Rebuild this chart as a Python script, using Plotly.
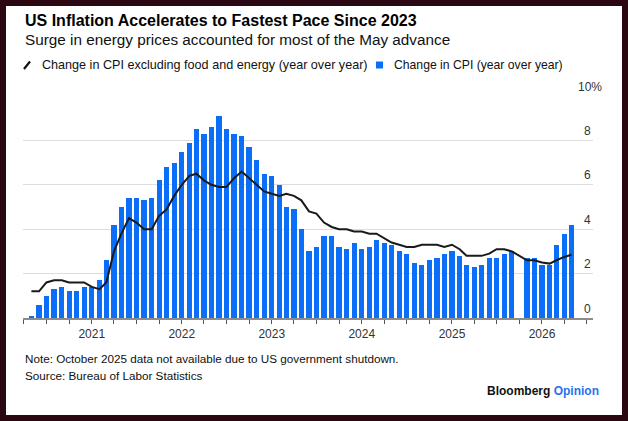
import pandas as pd
import plotly.graph_objects as go

#### data ####
# monthly, May 2020 through May 2026 (Oct 2025 missing: shutdown)
months = pd.date_range("2020-05-01", "2026-05-01", freq="MS")

cpi_yoy = [0.1, 0.6, 1.0, 1.3, 1.4, 1.2, 1.2, 1.4,                      # 2020 (May-Dec)
           1.4, 1.7, 2.6, 4.2, 5.0, 5.4, 5.4, 5.3, 5.4, 6.2, 6.8, 7.0,  # 2021
           7.5, 7.9, 8.5, 8.3, 8.6, 9.1, 8.5, 8.3, 8.2, 7.7, 7.1, 6.5,  # 2022
           6.4, 6.0, 5.0, 4.9, 4.0, 3.0, 3.2, 3.7, 3.7, 3.2, 3.1, 3.4,  # 2023
           3.1, 3.2, 3.5, 3.4, 3.3, 3.0, 2.9, 2.5, 2.4, 2.6, 2.7, 2.9,  # 2024
           3.0, 2.8, 2.4, 2.3, 2.4, 2.7, 2.7, 2.9, 3.0, None, 2.7, 2.7, # 2025
           2.4, 2.4, 3.3, 3.8, 4.2]                                     # 2026 (Jan-May)

core_yoy = [1.2, 1.2, 1.6, 1.7, 1.7, 1.6, 1.6, 1.6,
            1.4, 1.3, 1.6, 3.0, 3.8, 4.5, 4.3, 4.0, 4.0, 4.6, 4.9, 5.5,
            6.0, 6.4, 6.5, 6.2, 6.0, 5.9, 5.9, 6.3, 6.6, 6.3, 6.0, 5.7,
            5.6, 5.5, 5.6, 5.5, 5.3, 4.8, 4.7, 4.3, 4.1, 4.0, 4.0, 3.9,
            3.9, 3.8, 3.8, 3.6, 3.4, 3.3, 3.2, 3.2, 3.3, 3.3, 3.3, 3.2,
            3.3, 3.1, 2.8, 2.8, 2.8, 2.9, 3.1, 3.1, 3.0, None, 2.6, 2.6,
            2.5, 2.45, 2.6, 2.75, 2.85]

y_ticks = [0, 2, 4, 6, 8, 10]
y_ticktext = ["0", "2", "4", "6", "8", "10%"]
year_ticks = ["2021-01-01", "2022-01-01", "2023-01-01", "2024-01-01", "2025-01-01", "2026-01-01"]

title = "US Inflation Accelerates to Fastest Pace Since 2023"
subtitle = "Surge in energy prices accounted for most of the May advance"
core_label = "Change in CPI excluding food and energy (year over year)"
cpi_label = "Change in CPI (year over year)"
note = "Note: October 2025 data not available due to US government shutdown."
source = "Source: Bureau of Labor Statistics"

#### styling ####
W, H = 628, 421
L, R, T, B = 23, 35, 96, 103
blue = "#0a6ef9"
frame = "#2b0712"
font = "Liberation Sans"

def px(x):  # pixel x -> paper x
    return (x - L) / (W - L - R)

def py(y):  # pixel y -> paper y
    return (H - B - y) / (H - T - B)

fig = go.Figure()
fig.add_trace(go.Bar(x=months, y=cpi_yoy, marker_color=blue, marker_line_width=0,
                     width=21 * 86400000, name=cpi_label, hoverinfo="skip"))
fig.add_trace(go.Scatter(x=months, y=core_yoy, mode="lines", connectgaps=True,
                         line=dict(color="#1a1a1a", width=2), name=core_label, hoverinfo="skip"))

shapes = [
    dict(type="rect", xref="paper", yref="paper", x0=px(6), x1=px(622), y0=py(415), y1=py(6),
         fillcolor="white", line_width=0, layer="below"),
    # legend keys
    dict(type="line", xref="paper", yref="paper", x0=px(24), x1=px(30), y0=py(69), y1=py(61.5),
         line=dict(color="#111", width=2.2)),
    dict(type="rect", xref="paper", yref="paper", x0=px(376), x1=px(383), y0=py(68.5), y1=py(61.5),
         fillcolor=blue, line_width=0),
]

ann = [
    dict(text="<b>%s</b>" % title, x=px(23), y=py(21), font=dict(size=16, color="#000")),
    dict(text=subtitle, x=px(23), y=py(40), font=dict(size=15.3, color="#111")),
    dict(text=core_label, x=px(40), y=py(65), font=dict(size=12.6, color="#111")),
    dict(text=cpi_label, x=px(392), y=py(65), font=dict(size=12.2, color="#111")),
    dict(text=note, x=px(23), y=py(358), font=dict(size=11.7, color="#111")),
    dict(text=source, x=px(23), y=py(375), font=dict(size=11.7, color="#111")),
    dict(text="<b>Bloomberg</b> <b><span style='color:#1f73f0'>Opinion</span></b>", x=px(601), y=py(391),
         xanchor="right", font=dict(size=12, color="#111")),
]
for a in ann:
    a.setdefault("xanchor", "left")
    a.update(xref="paper", yref="paper", yanchor="middle", showarrow=False)

# y tick labels sit above the gridlines at the right end
for v, t in zip(y_ticks, y_ticktext):
    ann.append(dict(text=t, x=px(603.5 if t.endswith("%") else 593), y=v, xref="paper", yref="y",
                    xanchor="right", yanchor="middle", yshift=9.5, showarrow=False,
                    font=dict(size=12, color="#333")))

fig.update_layout(
    width=W, height=H, margin=dict(l=L, r=R, t=T, b=B),
    paper_bgcolor=frame, plot_bgcolor="white",
    font=dict(family=font, color="#333"),
    showlegend=False, bargap=0, hovermode=False,
    shapes=shapes, annotations=ann,
    xaxis=dict(type="date", range=["2020-03-28", "2026-07-27"],
               tickvals=year_ticks, tickformat="%Y", ticks="outside", ticklen=4,
               tickcolor="#555", tickwidth=1, showgrid=False,
               showline=True, linecolor="#8c8c8c", linewidth=1.5,
               tickfont=dict(size=12, color="#333"),
               minor=dict(dtick="M3", tick0="2021-01-01", ticks="outside", ticklen=4,
                          tickcolor="#555", showgrid=False)),
    yaxis=dict(range=[0, 10], tickvals=y_ticks, showticklabels=False,
               showgrid=True, gridcolor="#dddddd", gridwidth=1, zeroline=False),
)

# drop the browser's default body margin so the figure sits at the window's corner
fig.write_html("out.html", config={"displayModeBar": False},
               post_script="document.body.style.margin='0';")
